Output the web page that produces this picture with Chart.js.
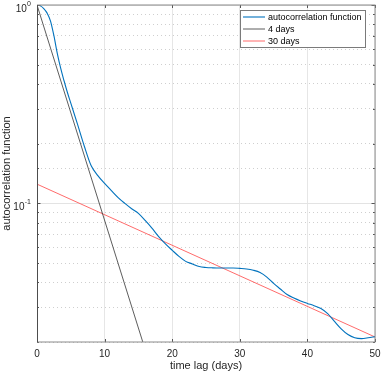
<!DOCTYPE html>
<html>
<head>
<meta charset="utf-8">
<script src="https://cdn.jsdelivr.net/npm/chart.js@4.4.0/dist/chart.umd.min.js"></script>
<style>
  html, body { margin: 0; padding: 0; background: #fff; }
  #wrap { width: 381px; height: 374px; }
</style>
</head>
<body>
<div id="wrap"><canvas id="acfChart"></canvas></div>
<script>
// autocorrelation (lag in days)
const lagDays = [0, 0.5, 1, 1.5, 2, 2.5, 3, 3.5, 4, 4.5,
  5, 6, 7, 8, 9, 10, 11, 12, 13, 14, 15, 16, 17, 18, 19, 20,
  21, 22, 23, 24, 25, 26, 27, 28, 29, 30, 31, 32, 33, 34, 35,
  36, 37, 38, 39, 40, 41, 42, 43, 44, 45, 46, 47, 48, 49, 50];
const acfValues = [1.0, 0.99, 0.96, 0.91, 0.83, 0.7, 0.57, 0.48, 0.415, 0.362,
  0.32, 0.25, 0.194, 0.155, 0.138, 0.126, 0.116, 0.107, 0.1, 0.094, 0.089, 0.082, 0.075, 0.068, 0.0625, 0.058,
  0.054, 0.051, 0.0495, 0.048, 0.0475, 0.0473, 0.0472, 0.0472, 0.0472, 0.047, 0.0467, 0.046, 0.0448, 0.0425, 0.0395,
  0.037, 0.0347, 0.0333, 0.0322, 0.0313, 0.0305, 0.0295, 0.0278, 0.0254, 0.0233, 0.0218, 0.021, 0.0208, 0.021, 0.0213];

// the two exponential reference lines (straight on a log axis)
const days4Lag = [0, 15.65];
const days4Values = [1, 0.02];
const days30Lag = [0, 50];
const days30Values = [0.125, 0.0212];

const seriesLabels = ['autocorrelation function', '4 days', '30 days'];
const xTickValues = [0, 10, 20, 30, 40, 50];
const yDecadeValues = [1, 0.1];
const yDecadeExponents = ['0', '-1'];

const FONT = '"Liberation Sans", Arial, Helvetica, sans-serif';

const toPoints = (xs, ys) => xs.map((x, i) => ({ x: x, y: ys[i] }));
const isDecade = (v) => Math.abs(Math.log10(v) - Math.round(Math.log10(v))) < 1e-9;

// box, inward ticks, superscript y labels and the legend, MATLAB style
const axesPlugin = {
  id: 'axesPlugin',
  afterDraw(chart) {
    const ctx = chart.ctx;
    const a = chart.chartArea;
    const xs = chart.scales.x;
    const ys = chart.scales.y;
    ctx.save();

    // inward tick marks
    ctx.strokeStyle = '#555';
    ctx.lineWidth = 1;
    ctx.beginPath();
    xTickValues.forEach(v => {
      const px = Math.round(xs.getPixelForValue(v)) + 0.5;
      ctx.moveTo(px, a.bottom); ctx.lineTo(px, a.bottom - 3);
      ctx.moveTo(px, a.top); ctx.lineTo(px, a.top + 3);
    });
    chart.scales.yMinor.ticks.forEach(t => {
      const py = Math.round(ys.getPixelForValue(t.value)) + 0.5;
      ctx.moveTo(a.left, py); ctx.lineTo(a.left + 2, py);
      ctx.moveTo(a.right, py); ctx.lineTo(a.right - 2, py);
    });
    yDecadeValues.forEach(v => {
      const py = Math.round(ys.getPixelForValue(v)) + 0.5;
      ctx.moveTo(a.left, py); ctx.lineTo(a.left + 3.5, py);
      ctx.moveTo(a.right, py); ctx.lineTo(a.right - 3.5, py);
    });
    ctx.stroke();

    // axes box
    ctx.strokeStyle = '#8a8a8a';
    ctx.strokeRect(a.left + 0.5, a.top, a.right - a.left - 0.5, a.bottom - a.top);
    ctx.strokeStyle = '#4d4d4d';
    ctx.beginPath();
    ctx.moveTo(a.left + 0.5, a.top); ctx.lineTo(a.left + 0.5, a.bottom);
    ctx.stroke();

    // y tick labels 10^k
    ctx.fillStyle = '#262626';
    ctx.textAlign = 'right';
    ctx.textBaseline = 'alphabetic';
    yDecadeValues.forEach((v, i) => {
      const py = ys.getPixelForValue(v);
      ctx.font = '7px ' + FONT;
      const ew = ctx.measureText(yDecadeExponents[i]).width;
      ctx.fillText(yDecadeExponents[i], 31, py + 1);
      ctx.font = '10px ' + FONT;
      ctx.fillText('10', 31 - ew - 0.3, py + 6.5);
    });

    // legend
    const lx = 240.5, ly = 10.5, lw = 125, lh = 37;
    ctx.fillStyle = '#fff';
    ctx.fillRect(lx, ly, lw, lh);
    ctx.strokeStyle = '#7a7a7a';
    ctx.lineWidth = 1;
    ctx.strokeRect(lx, ly, lw, lh);
    ctx.font = '9px ' + FONT;
    ctx.textAlign = 'left';
    ctx.textBaseline = 'middle';
    chart.data.datasets.forEach((ds, i) => {
      const ry = 17 + i * 12;
      ctx.strokeStyle = ds.borderColor;
      ctx.lineWidth = ds.borderWidth;
      ctx.beginPath();
      ctx.moveTo(243, ry); ctx.lineTo(265, ry);
      ctx.stroke();
      ctx.fillStyle = '#000';
      ctx.fillText(ds.label, 268, ry + 0.5);
    });
    ctx.restore();
  }
};

const ctx = document.getElementById('acfChart').getContext('2d');
const chart = new Chart(ctx, {
  type: 'line',
  data: {
    datasets: [{
      label: seriesLabels[0],
      data: toPoints(lagDays, acfValues),
      borderColor: '#0072BD',
      borderWidth: 1.1,
      pointRadius: 0,
      cubicInterpolationMode: 'monotone',
      fill: false
    }, {
      label: seriesLabels[1],
      data: toPoints(days4Lag, days4Values),
      borderColor: '#333333',
      borderWidth: 0.8,
      pointRadius: 0,
      fill: false
    }, {
      label: seriesLabels[2],
      data: toPoints(days30Lag, days30Values),
      borderColor: '#ff5a5a',
      borderWidth: 0.9,
      pointRadius: 0,
      fill: false
    }]
  },
  options: {
    responsive: true,
    maintainAspectRatio: false,
    devicePixelRatio: 1,
    animation: false,
    layout: { autoPadding: false, padding: { left: 0, right: 6, top: 5, bottom: 0 } },
    plugins: { legend: { display: false }, tooltip: { enabled: false } },
    scales: {
      x: {
        type: 'linear',
        min: 0,
        max: 50,
        afterBuildTicks: (s) => { s.ticks = xTickValues.map(v => ({ value: v })); },
        afterFit: (s) => { s.height = 32; s.paddingLeft = 0; s.paddingRight = 0; },
        grid: { color: '#e6e6e6', lineWidth: 1, drawTicks: false },
        border: { display: false },
        ticks: { padding: 6, color: '#262626', font: { family: FONT, size: 10 } },
        title: {
          display: true,
          text: 'time lag (days)',
          color: '#262626',
          font: { family: FONT, size: 11 },
          padding: { top: 0, bottom: 1 }
        }
      },
      y: {
        type: 'logarithmic',
        position: 'left',
        min: 0.02,
        max: 1,
        afterBuildTicks: (s) => { s.ticks = s.ticks.filter(t => isDecade(t.value)); },
        afterFit: (s) => { s.width = 37; s.paddingTop = 0; s.paddingBottom = 0; },
        grid: { color: '#e3e3e3', lineWidth: 1, drawTicks: false },
        border: { display: false },
        ticks: { display: false },
        title: {
          display: true,
          text: 'autocorrelation function',
          color: '#262626',
          font: { family: FONT, size: 11 },
          padding: { top: 0, bottom: 0 }
        }
      },
      yMinor: {
        type: 'logarithmic',
        position: 'left',
        min: 0.02,
        max: 1,
        afterBuildTicks: (s) => { s.ticks = s.ticks.filter(t => !isDecade(t.value)); },
        afterFit: (s) => { s.width = 0; s.paddingTop = 0; s.paddingBottom = 0; },
        grid: { color: '#cfcfcf', lineWidth: 1, drawTicks: false },
        border: { display: false, dash: [1, 3] },
        ticks: { display: false }
      }
    }
  },
  plugins: [axesPlugin]
});
</script>
</body>
</html>
